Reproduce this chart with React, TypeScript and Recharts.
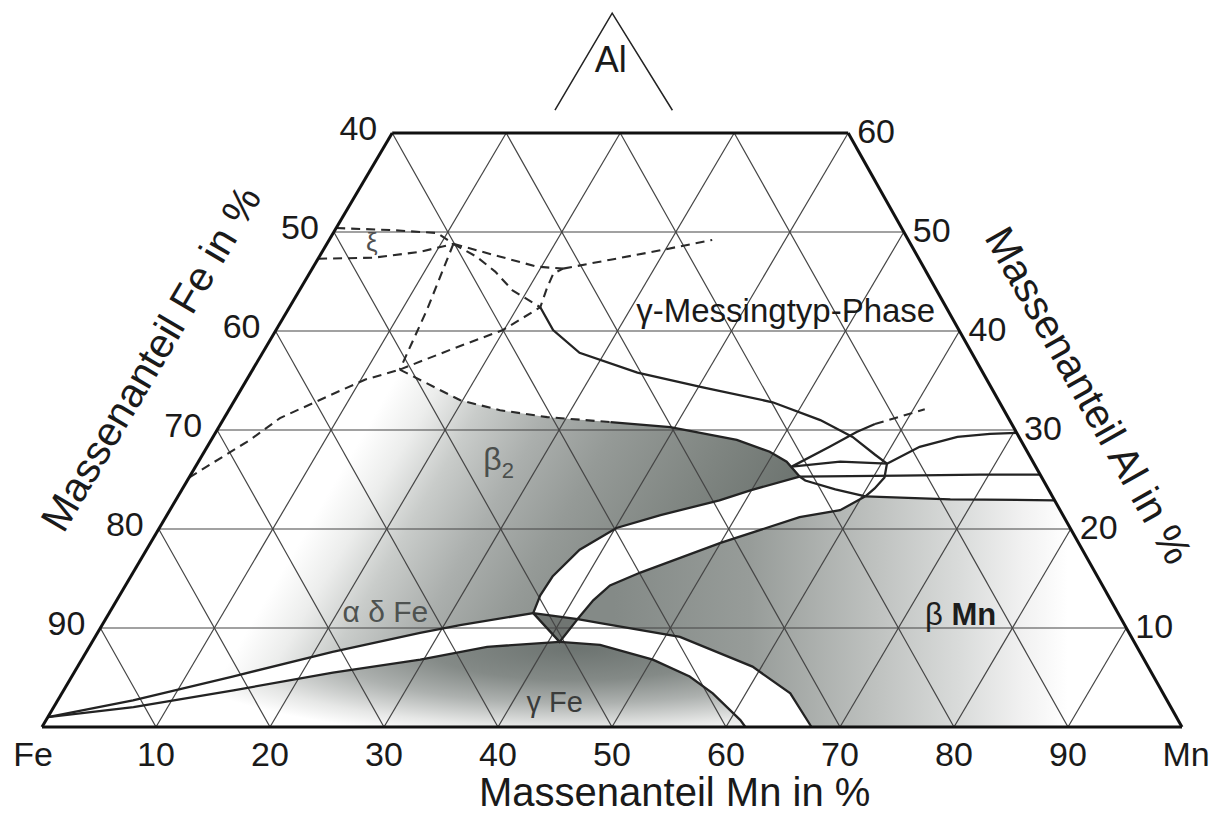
import React from 'react';
import { ComposedChart, XAxis, YAxis, Line, Area, Scatter, ReferenceLine } from 'recharts';

type P = [number, number]; // [Mn wt%, Al wt%]

// ---------------- chart frame / projection ----------------
const W = 1221;
const H = 818;
const K = 0.512; // horizontal projection factor of Al
const ORIGIN_PX = 42;
const X_SCALE = 11.4;
const BASE_PY = 727;
const AL_SCALE = 9.9;
const X_DOMAIN: [number, number] = [-ORIGIN_PX / X_SCALE, (W - ORIGIN_PX) / X_SCALE];
const Y_DOMAIN: [number, number] = [(BASE_PY - H) / AL_SCALE, BASE_PY / AL_SCALE];
const FONT = '"Liberation Sans", Arial, Helvetica, sans-serif';

// ---------------- axes / ticks ----------------
const MN_TICKS = [0, 10, 20, 30, 40, 50, 60, 70, 80, 90, 100];
const MN_TICK_LABELS = ['Fe', '10', '20', '30', '40', '50', '60', '70', '80', '90', 'Mn'];
const FE_TICKS = [40, 50, 60, 70, 80, 90];
const AL_TICKS = [60, 50, 40, 30, 20, 10];
const GRID_STEPS = [10, 20, 30, 40, 50, 60, 70, 80, 90];
const AL_GRID = [10, 20, 30, 40, 50];
const AL_TOP = 60;

// ---------------- phase boundaries ----------------
const XI_TOP: P[] = [[0, 50.4], [4.8, 50.2], [9.1, 49.9], [11.1, 48.8]];
const XI_BOTTOM: P[] = [[0, 47.3], [4.8, 47.4], [8.6, 48.0], [11.1, 48.8]];
const D_J0_J1: P[] = [[11.1, 48.8], [12.2, 42.1], [12.9, 36.1]];
const D_EDGE_J1: P[] = [[0, 25.2], [3.4, 29.0], [4.9, 31.2], [8.1, 33.5], [10.4, 35.1], [12.9, 36.1]];
const D_J1_J2: P[] = [[12.9, 36.1], [16.3, 38.1], [19.9, 40.1], [22.0, 42.4], [21.6, 44.3], [21.4, 45.8], [22.0, 46.3]];
const D_J0_J3: P[] = [[11.1, 48.8], [13.8, 47.5], [16.2, 46.0], [18.7, 44.1], [22.0, 42.4]];
const D_J0_J2: P[] = [[11.1, 48.8], [15.9, 47.5], [19.6, 46.5], [22.0, 46.3]];
const D_J2_END: P[] = [[22.0, 46.3], [25.7, 47.2], [29.8, 48.2], [33.6, 49.2]];
const GAMMA_BRASS: P[] = [[22.0, 42.4], [24.3, 40.1], [27.8, 37.8], [33.9, 35.8], [40.4, 34.3], [47.3, 32.8], [52.4, 31.0], [56.1, 29.3], [59.0, 27.5], [60.5, 26.6]];
const B2_TOP_DASHED: P[] = [[12.9, 36.1], [19.8, 33.0], [23.8, 32.0], [28.3, 31.3], [34.1, 30.8]];
const B2_TOP: P[] = [[34.1, 30.8], [39.6, 30.3], [46.1, 29.0], [49.6, 27.8], [51.6, 26.8], [53.5, 25.3]];
const B2_BOTTOM: P[] = [[53.5, 25.3], [49.9, 23.9], [47.7, 22.9], [43.3, 21.4], [40.1, 20.1], [38.0, 17.9], [37.0, 15.2], [36.9, 13.3], [37.2, 11.5]];
const ALPHA_BOTTOM: P[] = [[37.2, 11.5], [31.4, 10.3], [28.3, 9.5], [21.6, 7.6], [14.1, 5.1], [6.6, 2.7], [0, 1.0]];
const GAMMA_TOP: P[] = [[0, 1.0], [7.0, 2.0], [14.9, 3.7], [22.7, 5.5], [29.7, 6.8], [34.9, 8.1], [41.0, 8.6]];
const GAMMA_RIGHT: P[] = [[41.0, 8.6], [44.7, 8.3], [50.1, 6.8], [54.2, 5.1], [57.1, 3.4], [60.9, 0.7], [61.7, 0]];
const TRIANGLE: P[] = [[37.2, 11.5], [41.4, 10.9], [41.0, 8.6], [37.2, 11.5]];
const BMN_LEFT: P[] = [[41.4, 10.9], [41.8, 12.8], [42.5, 14.3], [44.5, 15.6], [50.0, 18.6], [55.6, 21.2], [58.8, 21.9], [60.3, 23.3]];
const BMN_LOWER: P[] = [[41.4, 10.9], [43.6, 10.5], [51.3, 9.1], [59.2, 6.1], [63.9, 3.4], [67.5, 0]];
const P_Q: P[] = [[52.3, 26.3], [56.3, 26.8], [60.5, 26.6]];
const P_UP: P[] = [[52.3, 26.3], [54.6, 28.3], [56.2, 29.8], [57.4, 30.6]];
const P_UP_DASHED: P[] = [[57.4, 30.6], [61.0, 32.1]];
const P_EDGE: P[] = [[53.5, 25.3], [62.3, 25.4], [69.2, 25.5], [74.5, 25.5]];
const P_R: P[] = [[53.5, 25.3], [54.2, 24.9], [57.3, 24.0], [60.3, 23.3]];
const R_EDGE: P[] = [[60.3, 23.3], [67.9, 23.0], [77.1, 22.9]];
const Q_R: P[] = [[60.5, 26.6], [61.0, 25.2], [60.7, 24.1], [60.3, 23.3]];
const Q_EDGE: P[] = [[60.5, 26.6], [62.5, 28.3], [65.3, 29.3], [68.0, 29.6], [70.3, 29.7]];
const AL_SKETCH: P[] = [[13.1, 62.3], [13.1, 72.1], [23.4, 62.3]];

// ---------------- labels ----------------
const XI_LABEL: P = [4.3, 48.1];
const BRASS_LABEL: P = [44.3, 40.9];
const B2_LABEL: P = [25.4, 26.0];
const ALPHA_LABEL: P = [24.7, 10.6];
const GAMMA_LABEL: P = [44.2, 1.5];
const BMN_LABEL: P = [75.3, 10.3];
const AL_LABEL: P = [16.0, 66.2];
const FE_TITLE_AT: P = [0, 36.5];
const AL_TITLE_AT: P = [67.2, 32.8];
const MN_TITLE_AT: P = [55.5, 0];

// ---------------- helpers ----------------
const xy = (p: P) => ({ x: p[0] + K * p[1], y: p[1] });
const toXY = (pts: P[]) => pts.map(xy);
const toPx = (mn: number, al: number) => ({ px: ORIGIN_PX + X_SCALE * (mn + K * al), py: BASE_PY - AL_SCALE * al });

const BIG_REGION: P[] = [
  [0, 1.0],
  ...D_EDGE_J1,
  ...B2_TOP_DASHED.slice(1),
  ...B2_TOP.slice(1),
  ...B2_BOTTOM.slice(1),
  ...ALPHA_BOTTOM.slice(1),
];
const GAMMA_REGION: P[] = [...GAMMA_TOP, ...GAMMA_RIGHT.slice(1), [0, 0], [0, 1.0]];
const BMN_REGION: P[] = [
  ...BMN_LEFT,
  ...R_EDGE.slice(1),
  [100, 0],
  ...[...BMN_LOWER].reverse(),
];

const gridSegments = (): [P, P][] => {
  const segs: [P, P][] = [];
  AL_GRID.forEach((a) => segs.push([[0, a], [100 - a, a]]));
  GRID_STEPS.forEach((m) => segs.push([[m, 0], [m, Math.min(AL_TOP, 100 - m)]]));
  GRID_STEPS.forEach((f) => {
    const base = 100 - f;
    const top = Math.min(AL_TOP, base);
    segs.push([[base, 0], [base - top, top]]);
  });
  return segs;
};
const FRAME: [P, P][] = [
  [[0, 0], [100, 0]],
  [[0, 0], [0, AL_TOP]],
  [[0, AL_TOP], [100 - AL_TOP, AL_TOP]],
  [[100 - AL_TOP, AL_TOP], [100, 0]],
];

// gradient geometry (computed from the same projection)
const perpNorm = Math.hypot(AL_SCALE, K * X_SCALE);
const bigStart = toPx(13, 15);
const bigDist = (42 * X_SCALE * AL_SCALE) / perpNorm;
const bigEnd = {
  px: bigStart.px + (bigDist * AL_SCALE) / perpNorm,
  py: bigStart.py + (bigDist * K * X_SCALE) / perpNorm,
};
const gammaCenter = toPx(42.7, 8.0);
const bmnStart = toPx(44, 12);
const bmnEnd = toPx(90, 0);
const leftAngle = -(Math.atan2(AL_SCALE, K * X_SCALE) * 180) / Math.PI;
const rightAngle = (Math.atan2(AL_SCALE, (1 - K) * X_SCALE) * 180) / Math.PI;

const LINE_COLOR = '#232323';

const solid = (pts: P[], key: string, width = 2.3) => (
  <Line key={key} data={toXY(pts)} dataKey="y" type="linear" stroke={LINE_COLOR} strokeWidth={width}
    dot={false} activeDot={false} isAnimationActive={false} legendType="none" />
);
const dashed = (pts: P[], key: string) => (
  <Line key={key} data={toXY(pts)} dataKey="y" type="linear" stroke="#2a2a2a" strokeWidth={2.1}
    strokeDasharray="9 6" dot={false} activeDot={false} isAnimationActive={false} legendType="none" />
);
const poly = (pts: P[], key: string, fill: string) => (
  <Area key={key} data={toXY(pts)} dataKey="y" type="linear" stroke="none" fill={fill} fillOpacity={1}
    dot={false} activeDot={false} isAnimationActive={false} legendType="none" />
);

type TextOpts = { dx?: number; dy?: number; anchor?: 'start' | 'middle' | 'end'; size: number; color?: string; rotate?: number; weight?: number };
const textShape = (o: TextOpts) => (props: any) => {
  const { cx, cy, payload } = props;
  if (cx == null || cy == null) return <g />;
  const x = cx + (o.dx || 0) + (payload.dx || 0);
  const y = cy + (o.dy || 0);
  return (
    <text x={x} y={y} textAnchor={o.anchor || 'middle'} fontSize={o.size} fill={o.color || '#1a1a1a'}
      fontFamily={FONT} fontWeight={o.weight || 400}
      transform={o.rotate ? `rotate(${o.rotate} ${x} ${y})` : undefined}>
      {payload.label}
    </text>
  );
};
const textLayer = (key: string, data: any[], o: TextOpts) => (
  <Scatter key={key} data={data} shape={textShape(o)} isAnimationActive={false} legendType="none" />
);

const one = (p: P, label: string) => [{ ...xy(p), label }];

export default function App() {
  const grid = gridSegments();
  return (
    <div style={{ position: 'fixed', left: 0, top: 0, width: W, height: H, background: '#fff' }}>
      <svg width={0} height={0} style={{ position: 'absolute' }}>
        <defs>
          <linearGradient id="gBig" gradientUnits="userSpaceOnUse" x1={bigStart.px} y1={bigStart.py} x2={bigEnd.px} y2={bigEnd.py}>
            <stop offset="0" stopColor="#ffffff" />
            <stop offset="0.1" stopColor="#ecedec" />
            <stop offset="0.21" stopColor="#c9ccca" />
            <stop offset="0.36" stopColor="#abafad" />
            <stop offset="0.52" stopColor="#959a97" />
            <stop offset="0.76" stopColor="#7f8581" />
            <stop offset="1" stopColor="#6a716d" />
          </linearGradient>
          <radialGradient id="gGamma" gradientUnits="userSpaceOnUse" cx={gammaCenter.px} cy={gammaCenter.py} r={420}
            gradientTransform={`translate(${gammaCenter.px} ${gammaCenter.py}) scale(1 0.22) translate(${-gammaCenter.px} ${-gammaCenter.py})`}>
            <stop offset="0" stopColor="#6c7370" />
            <stop offset="0.35" stopColor="#848a87" />
            <stop offset="0.6" stopColor="#adb1af" />
            <stop offset="0.85" stopColor="#e6e7e6" />
            <stop offset="1" stopColor="#ffffff" />
          </radialGradient>
          <linearGradient id="gBmn" gradientUnits="userSpaceOnUse" x1={bmnStart.px} y1={0} x2={bmnEnd.px} y2={0}>
            <stop offset="0" stopColor="#848a87" />
            <stop offset="0.3" stopColor="#979c99" />
            <stop offset="0.58" stopColor="#bfc2c0" />
            <stop offset="0.76" stopColor="#d9dbda" />
            <stop offset="0.9" stopColor="#f1f1f1" />
            <stop offset="1" stopColor="#ffffff" />
          </linearGradient>
        </defs>
      </svg>
      <ComposedChart width={W} height={H} margin={{ top: 0, right: 0, bottom: 0, left: 0 }}>
        <XAxis type="number" dataKey="x" domain={X_DOMAIN} hide allowDataOverflow />
        <YAxis type="number" dataKey="y" domain={Y_DOMAIN} hide allowDataOverflow />

        {poly(BIG_REGION, 'rBig', 'url(#gBig)')}
        {poly(GAMMA_REGION, 'rGamma', 'url(#gGamma)')}
        {poly(BMN_REGION, 'rBmn', 'url(#gBmn)')}
        {poly(TRIANGLE, 'rTri', '#707572')}

        {grid.map(([a, b], i) => (
          <ReferenceLine key={`g${i}`} segment={[xy(a), xy(b)]} stroke="#444" strokeWidth={1.2} ifOverflow="visible" />
        ))}

        {dashed(XI_TOP, 'xiT')}
        {dashed(XI_BOTTOM, 'xiB')}
        {dashed(D_J0_J1, 'd01')}
        {dashed(D_EDGE_J1, 'de1')}
        {dashed(D_J1_J2, 'd12')}
        {dashed(D_J0_J3, 'd03')}
        {dashed(D_J0_J2, 'd02')}
        {dashed(D_J2_END, 'd2e')}
        {dashed(B2_TOP_DASHED, 'b2td')}
        {dashed(P_UP_DASHED, 'pud')}

        {solid(GAMMA_BRASS, 'gb')}
        {solid(B2_TOP, 'b2t')}
        {solid(B2_BOTTOM, 'b2b')}
        {solid(ALPHA_BOTTOM, 'ab')}
        {solid(GAMMA_TOP, 'gt')}
        {solid(GAMMA_RIGHT, 'gr')}
        {solid(TRIANGLE, 'tri')}
        {solid(BMN_LEFT, 'bl')}
        {solid(BMN_LOWER, 'blo')}
        {solid(P_Q, 'pq')}
        {solid(P_UP, 'pu')}
        {solid(P_EDGE, 'pe')}
        {solid(P_R, 'pr')}
        {solid(R_EDGE, 're')}
        {solid(Q_R, 'qr')}
        {solid(Q_EDGE, 'qe')}
        {solid(AL_SKETCH, 'als', 1.5)}

        {FRAME.map(([a, b], i) => (
          <ReferenceLine key={`f${i}`} segment={[xy(a), xy(b)]} stroke="#111" strokeWidth={3} ifOverflow="visible" />
        ))}

        {textLayer('tMn', MN_TICKS.map((m, i) => ({ ...xy([m, 0]), label: MN_TICK_LABELS[i], dx: i === 0 ? -9 : i === MN_TICKS.length - 1 ? 4 : 0 })), { dy: 39, size: 34 })}
        {textLayer('tFe', FE_TICKS.map((f) => ({ ...xy([0, 100 - f]), label: String(f) })), { dx: -15, dy: 7, anchor: 'end', size: 34 })}
        {textLayer('tAl', AL_TICKS.map((a) => ({ ...xy([100 - a, a]), label: String(a) })), { dx: 9, dy: 10, anchor: 'start', size: 34 })}

        {textLayer('ttFe', one(FE_TITLE_AT, 'Massenanteil Fe in %'), { dx: -92, dy: 0, size: 41, rotate: leftAngle })}
        {textLayer('ttAl', one(AL_TITLE_AT, 'Massenanteil Al in %'), { dx: 77, dy: 0, size: 41, rotate: rightAngle })}
        {textLayer('ttMn', one(MN_TITLE_AT, 'Massenanteil Mn in %'), { dy: 79, size: 40 })}

        {textLayer('lXi', one(XI_LABEL, 'ξ'), { size: 26, color: '#505050' })}
        {textLayer('lBrass', one(BRASS_LABEL, 'γ-Messingtyp-Phase'), { size: 33 })}
        {textLayer('lAlpha', one(ALPHA_LABEL, 'α δ Fe'), { size: 30, color: '#4e5250' })}
        {textLayer('lGamma', one(GAMMA_LABEL, 'γ Fe'), { size: 29, color: '#3a3c3b' })}
        {textLayer('lAl', one(AL_LABEL, 'Al'), { size: 36 })}
        <Scatter data={one(B2_LABEL, 'β')} isAnimationActive={false} legendType="none"
          shape={(props: any) => props.cx == null ? <g /> : (
            <text x={props.cx} y={props.cy} fontSize={32} fill="#4b4f4d" fontFamily={FONT}>
              β<tspan fontSize={22} dy={8}>2</tspan>
            </text>
          )} />
        <Scatter data={one(BMN_LABEL, 'β Mn')} isAnimationActive={false} legendType="none"
          shape={(props: any) => props.cx == null ? <g /> : (
            <text x={props.cx} y={props.cy} textAnchor="middle" fontSize={31} fill="#1d1d1d" fontFamily={FONT}>
              β <tspan fontWeight={700}>Mn</tspan>
            </text>
          )} />
      </ComposedChart>
    </div>
  );
}
